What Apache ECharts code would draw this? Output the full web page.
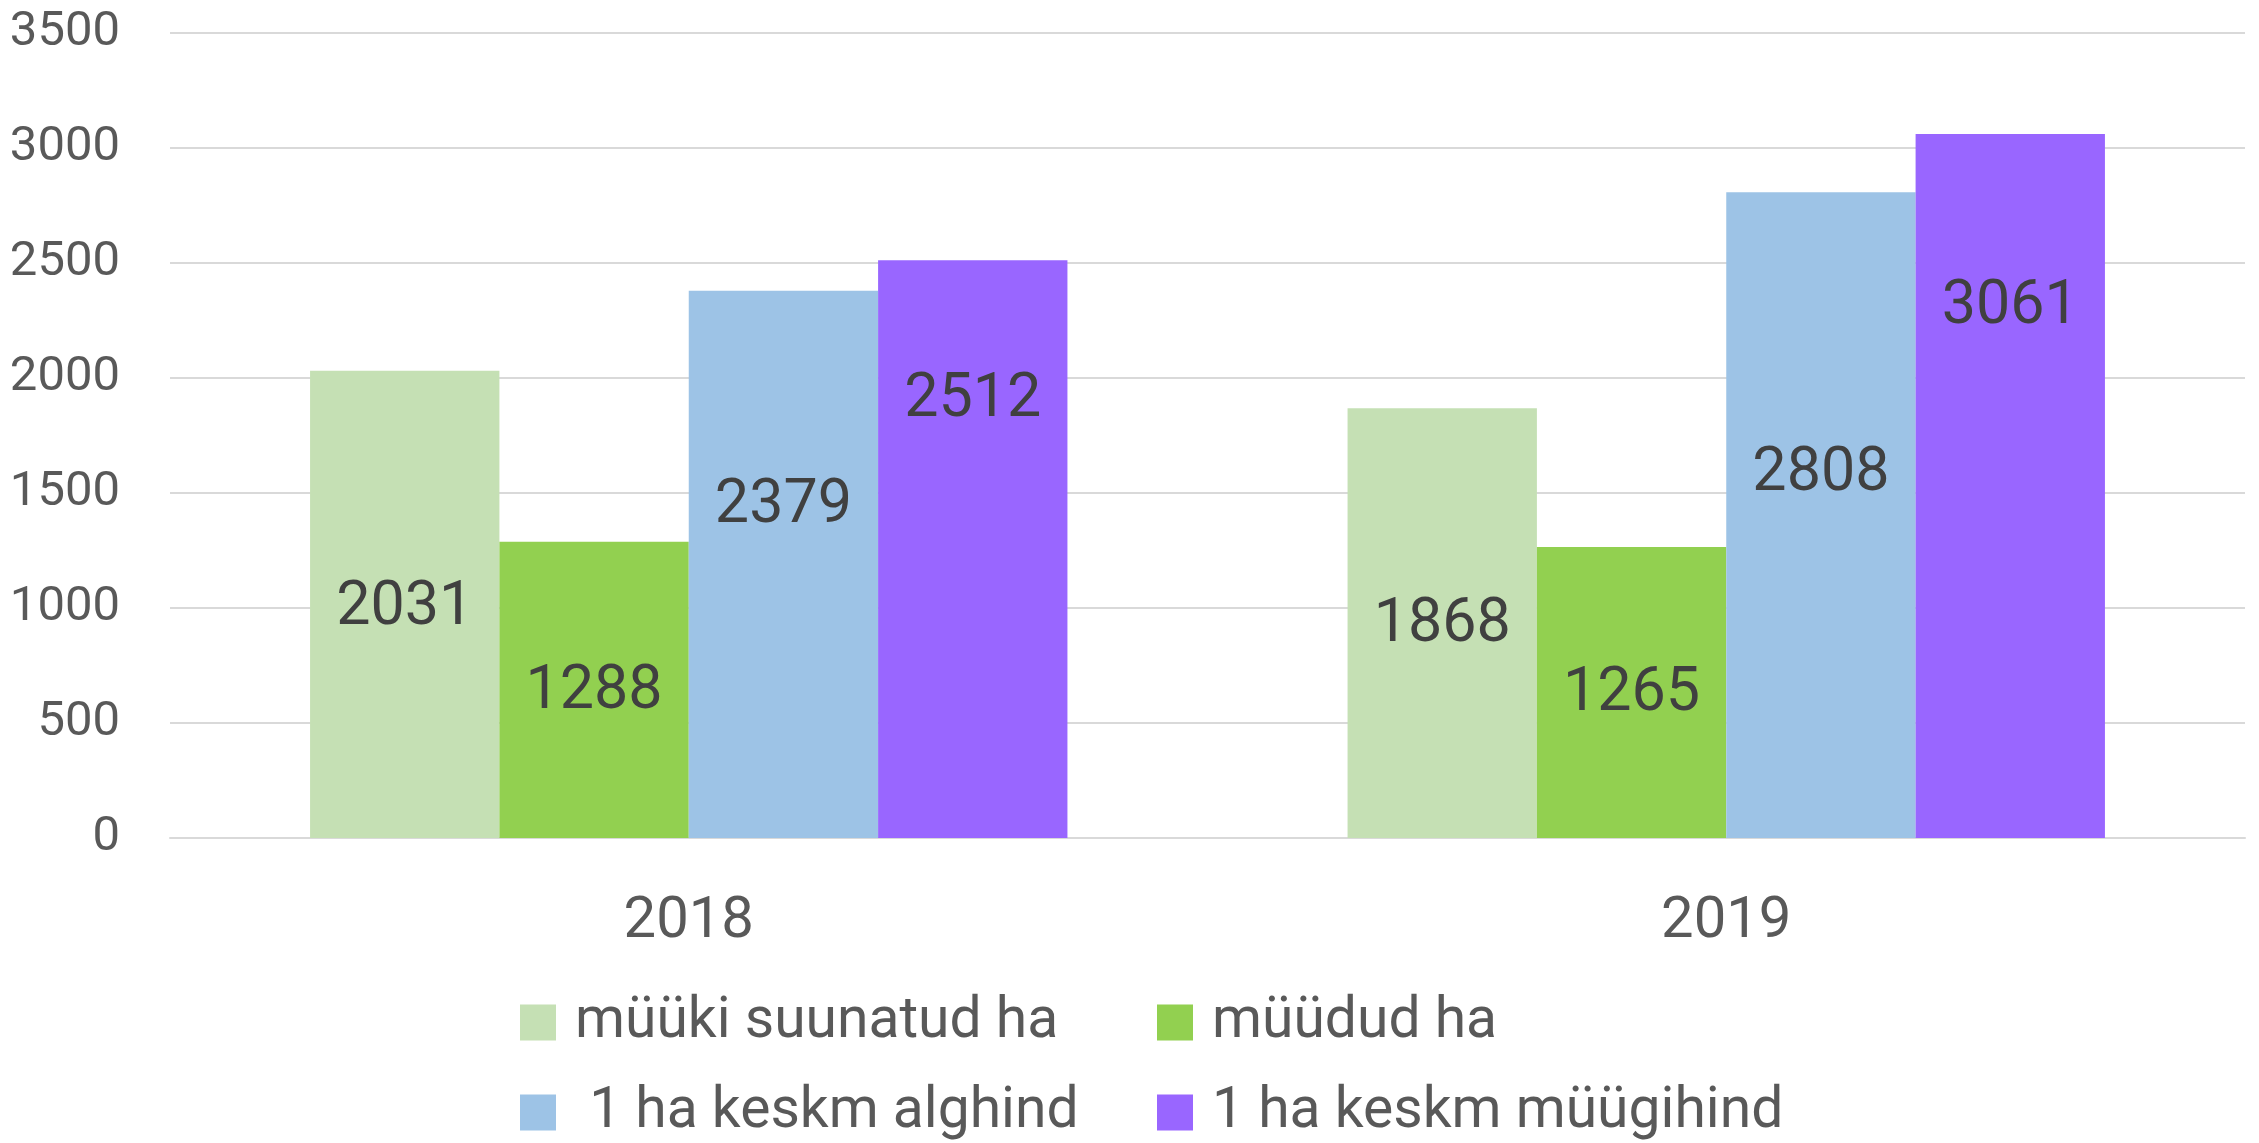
<!DOCTYPE html>
<html>
<head>
<meta charset="utf-8">
<script src="https://cdn.jsdelivr.net/npm/echarts@6/dist/echarts.min.js"></script>
<style>
html,body{margin:0;padding:0;background:#fff;}
#c{width:2259px;height:1143px;}
</style>
</head>
<body>
<div id="c"></div>
<script>
const categories = ['2018', '2019'];
const seriesNames = ['müüki suunatud ha', 'müüdud ha', ' 1 ha keskm alghind', '1 ha keskm müügihind'];
const suunatud = [2031, 1868];
const myydud = [1288, 1265];
const alghind = [2379, 2808];
const myygihind = [2512, 3061];
const yTicks = [0, 500, 1000, 1500, 2000, 2500, 3000, 3500];

const FONT = "Roboto, 'Noto Sans', sans-serif";
const colors = ['#c5e0b4', '#92d050', '#9dc3e6', '#9966ff'];
const values = [suunatud, myydud, alghind, myygihind];
// label vertical offsets (px) relative to bar centre, per series/category
const labelDy = [[4, 3], [3, 2], [-58, -40], [-148, -178]];

const chart = echarts.init(document.getElementById('c'));

const series = values.map((vals, si) => ({
  name: seriesNames[si],
  type: 'bar',
  barGap: '0%',
  barCategoryGap: '27%',
  itemStyle: { color: colors[si] },
  data: vals.map((v, ci) => ({
    value: v,
    label: { offset: [0, labelDy[si][ci]] }
  })),
  label: {
    show: true,
    position: 'inside',
    color: '#404040',
    fontFamily: FONT,
    fontSize: 61
  }
}));

const legendPos = [
  { left: 520, top: 994 },
  { left: 1157, top: 994 },
  { left: 520, top: 1084 },
  { left: 1157, top: 1084 }
];
const legends = seriesNames.map((n, i) => ({
  data: [n],
  left: legendPos[i].left,
  top: legendPos[i].top,
  padding: 0,
  itemWidth: 36,
  itemHeight: 36,
  icon: 'rect',
  selectedMode: false,
  textStyle: { color: '#595959', fontFamily: FONT, fontSize: 57, padding: [0, 0, 0, 14] }
}));

chart.setOption({
  animation: false,
  backgroundColor: '#ffffff',
  grid: { left: 170, right: 14, top: 33, bottom: 305, containLabel: false, outerBoundsMode: 'none' },
  legend: legends,
  xAxis: {
    type: 'category',
    data: categories,
    axisLine: { show: true, lineStyle: { color: '#d9d9d9', width: 2 } },
    axisTick: { show: false },
    axisLabel: { color: '#595959', fontFamily: FONT, fontSize: 58, margin: 55 }
  },
  yAxis: {
    type: 'value',
    min: yTicks[0],
    max: yTicks[yTicks.length - 1],
    interval: 500,
    axisLine: { show: false },
    axisTick: { show: false },
    splitLine: { lineStyle: { color: '#d9d9d9', width: 2 } },
    axisLabel: { color: '#595959', fontFamily: FONT, fontSize: 49, margin: 50, formatter: v => String(v) }
  },
  series: series
});
</script>
</body>
</html>
